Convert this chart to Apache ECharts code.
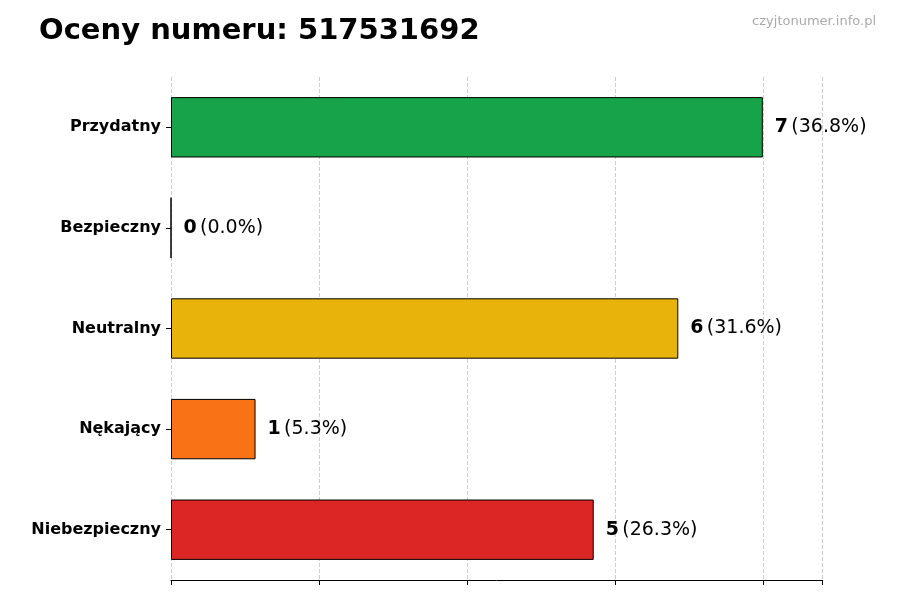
<!DOCTYPE html>
<html><head><meta charset="utf-8">
<script src="https://cdn.jsdelivr.net/npm/echarts@6/dist/echarts.min.js"></script>
<style>html,body{margin:0;padding:0;background:#fff}#c{width:900px;height:600px}</style>
</head><body><div id="c"></div>
<script>
const categories = ["Przydatny","Bezpieczny","Neutralny","Nękający","Niebezpieczny"];
const values = [7,0,6,1,5];
const percents = ["36.8%","0.0%","31.6%","5.3%","26.3%"];
const colors = ["#17a34a","#7f7f7f","#e8b40b","#f97316","#dc2626"];
const chart = echarts.init(document.getElementById('c'));
chart.setOption({
  animation:false,
  title:[{text:"Oceny numeru: 517531692",left:34,top:12,textStyle:{fontFamily:"DejaVu Sans",fontWeight:"bold",fontSize:29,color:"#000"}},
         {text:"czyjtonumer.info.pl",right:19,top:10,textStyle:{fontFamily:"DejaVu Sans",fontWeight:"normal",fontSize:13,color:"#aaa"}}],
  grid:{left:171,right:78,top:77,bottom:20},
  xAxis:{type:'value',min:0,max:7.7,interval:1.75,
    axisLine:{show:true,lineStyle:{color:'#000'}},axisTick:{show:true,lineStyle:{color:'#000'}},
    axisLabel:{show:false},splitLine:{show:true,lineStyle:{type:'dashed',color:'#ccc'}}},
  yAxis:{type:'category',data:categories,inverse:true,
    axisLine:{show:false},axisTick:{show:true,alignWithLabel:true,lineStyle:{color:'#000'}},
    axisLabel:{fontFamily:"DejaVu Sans",fontWeight:'bold',fontSize:16,color:'#000',margin:10}},
  series:[{type:'bar',barWidth:'60%',
    data:values.map((v,i)=>({value:v,itemStyle:{color:colors[i],borderColor:'#000',borderWidth:1}})),
    label:{show:true,position:'right',distance:12,
      formatter:p=>'{b|'+values[p.dataIndex]+'} {n|('+percents[p.dataIndex]+')}',
      rich:{b:{fontFamily:"DejaVu Sans",fontWeight:'bold',fontSize:19,color:'#000'},
            n:{fontFamily:"DejaVu Sans",fontSize:19,color:'#000'}}}}]
});
</script></body></html>
